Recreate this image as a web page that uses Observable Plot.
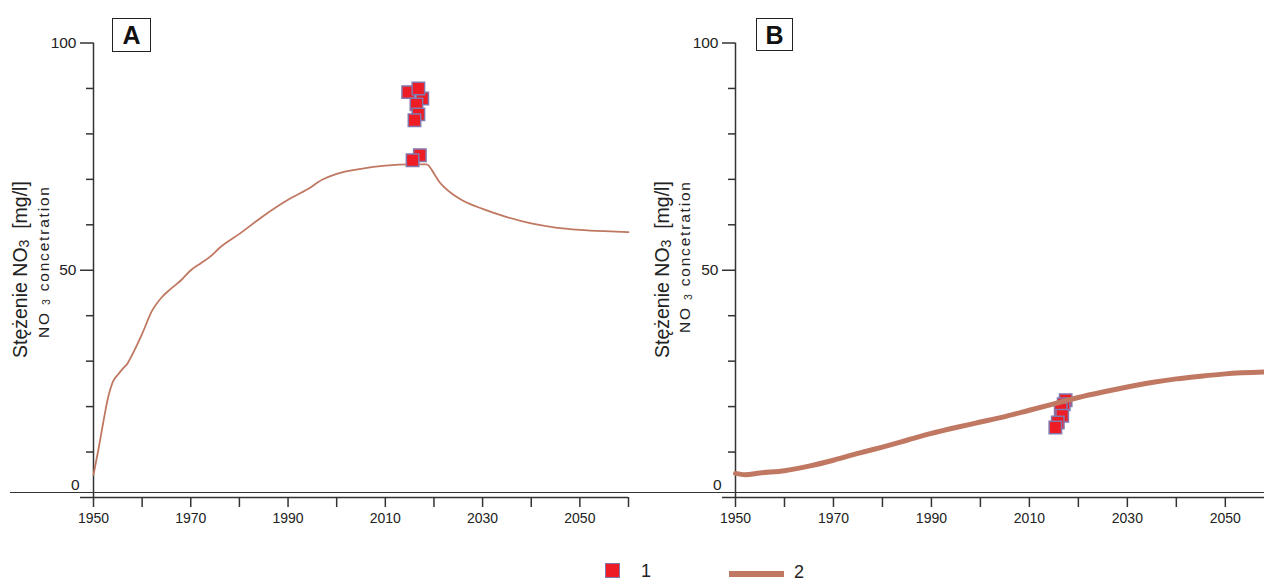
<!DOCTYPE html>
<html>
<head>
<meta charset="utf-8">
<script src="https://cdn.jsdelivr.net/npm/d3@7"></script>
<script src="https://cdn.jsdelivr.net/npm/@observablehq/plot@0.6"></script>
<style>
  html, body { margin: 0; padding: 0; background: #fff; }
  body { font-family: "Liberation Sans", Arial, sans-serif; color: #222; }
  #wrap { position: relative; width: 1264px; height: 582px; overflow: hidden; }
  #charts { display: flex; width: 1264px; }
  #charts svg { display: block; overflow: visible; }
  .baseline { position: absolute; left: 10px; width: 1254px; top: 491.8px; height: 1.5px; background: #333; }
  .panel-label { position: absolute; box-sizing: border-box; border: 1.2px solid #222; font-weight: bold; font-size: 25px; line-height: 32px; text-align: center; color: #111; background: #fff; }
  #legend { position: relative; width: 1264px; height: 37px; }
  .leg-sq { position: absolute; left: 605px; top: 18px; width: 15px; height: 15px; box-sizing: border-box; background: #ee1c25; border: 1.5px solid #8378ad; }
  .leg-line { position: absolute; left: 729px; top: 25.5px; width: 55px; height: 6px; background: #c07862; }
  .leg-txt { position: absolute; font-size: 18px; line-height: 18px; color: #222; }
</style>
</head>
<body>
<div id="wrap">
  <div id="charts"></div>
  <div class="baseline"></div>
  <div class="panel-label" style="left:112px; top:18px; width:39px; height:34px;">A</div>
  <div class="panel-label" style="left:756px; top:18px; width:37px; height:33px;">B</div>
  <div id="legend">
    <div class="leg-sq"></div>
    <div class="leg-txt" style="left:641px; top:17px;">1</div>
    <div class="leg-line"></div>
    <div class="leg-txt" style="left:794px; top:18px;">2</div>
  </div>
</div>
<script>
// ---- Data ----
// Panel A: modelled NO3 concentration (series 2)
const yearsA  = [1950, 1951, 1952, 1953, 1954, 1955, 1956, 1957, 1958, 1960, 1962, 1964, 1966, 1968, 1970, 1972, 1974, 1976, 1980, 1985, 1990, 1994, 1997, 2000, 2005, 2010, 2015, 2018.5, 2020, 2021, 2022, 2024, 2026, 2030, 2035, 2040, 2045, 2050, 2055, 2060];
const valuesA = [5.0, 10.5, 16.5, 22, 25.5, 27, 28.3, 29.5, 31.5, 36, 41, 44, 46, 47.8, 50, 51.5, 53, 55, 58, 62, 65.5, 67.8, 69.9, 71.2, 72.3, 73, 73.3, 73.3, 71.3, 69.6, 68.4, 66.6, 65.3, 63.5, 61.7, 60.3, 59.4, 58.9, 58.6, 58.4];
// Panel A: measured NO3 (series 1)
const ptYearsA  = [2014.7, 2017.6, 2016.8, 2016.4, 2016.8, 2016.0, 2017.1, 2015.6];
const ptValuesA = [89.2, 87.8, 90.0, 86.5, 84.3, 83.0, 75.3, 74.2];

// Panel B: modelled NO3 concentration (series 2)
const yearsB  = [1950, 1952, 1955, 1960, 1965, 1970, 1975, 1980, 1985, 1990, 1995, 2000, 2005, 2010, 2015, 2020, 2025, 2030, 2035, 2040, 2045, 2050, 2058];
const valuesB = [5.3, 5.0, 5.4, 5.9, 6.9, 8.2, 9.7, 11.1, 12.6, 14.1, 15.4, 16.6, 17.8, 19.2, 20.6, 22.0, 23.2, 24.3, 25.3, 26.1, 26.7, 27.2, 27.6];
// Panel B: measured NO3 (series 1)
const ptYearsB  = [2017.4, 2017.0, 2016.4, 2016.7, 2015.8, 2015.3];
const ptValuesB = [21.4, 20.5, 19.4, 18.0, 16.5, 15.4];

// Axis ticks
const yMajorTicks = [0, 50, 100];
const yMinorTicks = [10, 20, 30, 40, 60, 70, 80, 90];
const xTicksA = [1950, 1960, 1970, 1980, 1990, 2000, 2010, 2020, 2030, 2040, 2050, 2060];
const xTicksB = [1950, 1960, 1970, 1980, 1990, 2000, 2010, 2020, 2030, 2040, 2050];
const xDomainA = [1950, 2060];
const xDomainB = [1950, 2058];
const yDomain = [0, 100];

const lineColor = "#c07862";
const ptFill = "#ee1c25";
const ptStroke = "#8378ad";
const axisColor = "#333";

function panel({years, values, ptYears, ptValues, xDomain, xTicks, marginLeft, marginRight, lineWidth, lineOnTop}) {
  const line = Plot.line(years.map((y, i) => ({x: y, v: values[i]})), {x: "x", y: "v", stroke: lineColor, strokeWidth: lineWidth, curve: "monotone-x", strokeLinejoin: "round"});
  const dots = Plot.dot(ptYears.map((y, i) => ({x: y, v: ptValues[i]})), {x: "x", y: "v", symbol: "square", r: 7, fill: ptFill, stroke: ptStroke, strokeWidth: 1.5});
  return Plot.plot({
    width: 632,
    height: 545,
    marginLeft, marginRight,
    marginTop: 42.5,
    marginBottom: 48,
    x: {domain: xDomain},
    y: {domain: yDomain},
    style: {fontFamily: '"Liberation Sans", Arial, sans-serif', color: "#222", background: "transparent", overflow: "visible"},
    marks: [
      Plot.ruleX([xDomain[0]], {y1: yDomain[0], y2: yDomain[1], stroke: axisColor, strokeWidth: 1.5}),
      Plot.ruleY([yDomain[0]], {x1: xDomain[0], x2: xDomain[1], stroke: axisColor, strokeWidth: 1.5}),
      Plot.axisY({ticks: yMajorTicks, tickSize: 13, tickPadding: 4, tickFormat: d => d === 0 ? "" : String(d), fontSize: 15.5, label: null, stroke: axisColor, strokeWidth: 1.5}),
      Plot.axisY({ticks: [0], tickSize: 0, tickPadding: 14, tickFormat: d => String(d), dy: -12, fontSize: 15.5, label: null}),
      Plot.axisY({ticks: yMinorTicks, tickSize: 7, tickFormat: () => "", label: null, stroke: axisColor, strokeWidth: 1.5}),
      Plot.axisX({ticks: xTicks, tickSize: 10, tickPadding: 6, tickFormat: d => ((d - xDomain[0]) % 20 === 0 ? String(d) : ""), fontSize: 14, label: null, stroke: axisColor, strokeWidth: 1.5}),
      ...(lineOnTop ? [dots, line] : [line, dots])
    ]
  });
}

const chartA = panel({years: yearsA, values: valuesA, ptYears: ptYearsA, ptValues: ptValuesA, xDomain: xDomainA, xTicks: xTicksA, marginLeft: 93, marginRight: 4, lineWidth: 1.8, lineOnTop: false});
const chartB = panel({years: yearsB, values: valuesB, ptYears: ptYearsB, ptValues: ptValuesB, xDomain: xDomainB, xTicks: xTicksB, marginLeft: 103, marginRight: 0, lineWidth: 5, lineOnTop: true});

function addTitles(svg, x1, y1, x2, y2) {
  const s = d3.select(svg);
  const t1 = s.append("text").attr("transform", `translate(${x1},${y1}) rotate(-90)`).attr("text-anchor", "start").attr("font-size", 19.5).attr("fill", "#222");
  t1.append("tspan").text("Stężenie NO");
  t1.append("tspan").attr("font-size", 14).attr("dy", 2).text("3");
  t1.append("tspan").attr("dy", -2).text("\u00a0\u00a0[mg/l]");
  const t2 = s.append("text").attr("transform", `translate(${x2},${y2}) rotate(-90)`).attr("text-anchor", "start").attr("font-size", 15.5).attr("fill", "#222").attr("letter-spacing", 1.8);
  t2.append("tspan").text("NO\u00a0");
  t2.append("tspan").attr("font-size", 10.5).attr("dy", 1.5).text("3");
  t2.append("tspan").attr("dy", -1.5).text("\u00a0concetration");
}
addTitles(chartA, 26.5, 358, 48.5, 338);
addTitles(chartB, 36.5, 358, 58, 333);

document.getElementById("charts").append(chartA, chartB);
</script>
</body>
</html>
